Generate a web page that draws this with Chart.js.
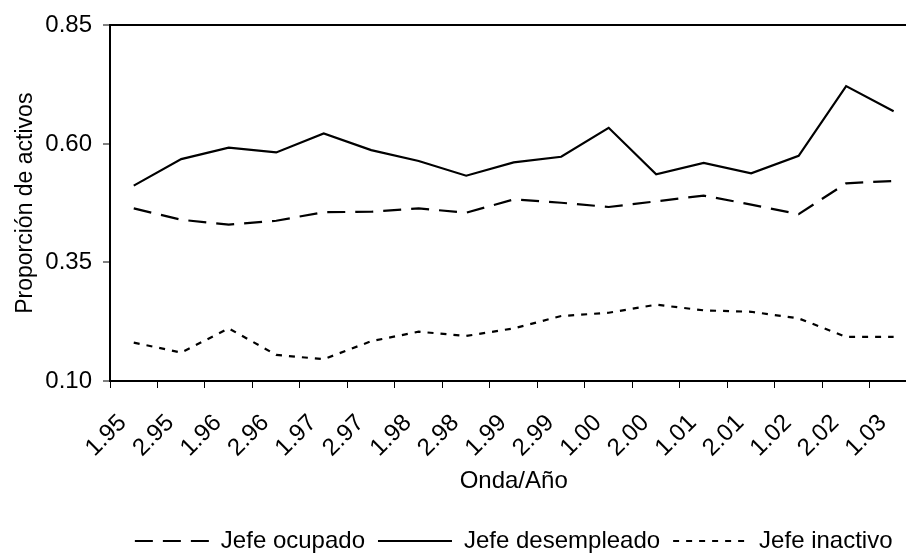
<!DOCTYPE html>
<html>
<head>
<meta charset="utf-8">
<script src="https://cdn.jsdelivr.net/npm/chart.js@4.4.0/dist/chart.umd.min.js"></script>
<style>
  html, body { margin: 0; padding: 0; background: #fff; overflow: hidden; }
  #wrap { width: 935px; height: 563px; position: relative; }
</style>
</head>
<body>
<div id="wrap"><canvas id="chart"></canvas></div>
<script>
// Onda/Año categories
const waves = ['1.95', '2.95', '1.96', '2.96', '1.97', '2.97', '1.98', '2.98', '1.99',
               '2.99', '1.00', '2.00', '1.01', '2.01', '1.02', '2.02', '1.03'];

// Proporción de activos por situación del jefe
const jefeOcupado     = [0.464, 0.440, 0.430, 0.438, 0.456, 0.457, 0.464, 0.455, 0.483,
                         0.476, 0.467, 0.479, 0.491, 0.472, 0.452, 0.517, 0.522];
const jefeDesempleado = [0.512, 0.568, 0.592, 0.582, 0.622, 0.587, 0.564, 0.533, 0.561,
                         0.573, 0.634, 0.536, 0.560, 0.538, 0.575, 0.722, 0.669];
const jefeInactivo    = [0.181, 0.160, 0.211, 0.155, 0.146, 0.184, 0.204, 0.195, 0.211,
                         0.237, 0.244, 0.261, 0.249, 0.246, 0.232, 0.193, 0.193];

const yTicks = [0.10, 0.35, 0.60, 0.85];

const FONT = '"Liberation Sans", Arial, sans-serif';
Chart.defaults.font.family = FONT;
Chart.defaults.color = '#000';

const ctx = document.getElementById('chart');

new Chart(ctx, {
    type: 'line',
    data: {
        labels: waves,
        datasets: [
            {
                label: 'Jefe ocupado',
                data: jefeOcupado,
                borderColor: '#000',
                borderWidth: 2.2,
                borderDash: [18, 10],
                pointRadius: 0,
                tension: 0
            },
            {
                label: 'Jefe desempleado',
                data: jefeDesempleado,
                borderColor: '#000',
                borderWidth: 2.2,
                pointRadius: 0,
                tension: 0
            },
            {
                label: 'Jefe inactivo',
                data: jefeInactivo,
                borderColor: '#000',
                borderWidth: 2.2,
                borderDash: [6, 7],
                pointRadius: 0,
                tension: 0
            }
        ]
    },
    options: {
        responsive: true,
        maintainAspectRatio: false,
        animation: false,
        layout: {
            padding: { left: 12, top: 21, right: 0, bottom: 0 }
        },
        plugins: {
            tooltip: { enabled: false },
            legend: {
                position: 'bottom',
                fullSize: false,
                labels: {
                    usePointStyle: true,
                    pointStyle: 'line',
                    pointStyleWidth: 74,
                    padding: 13,
                    color: '#000',
                    font: { size: 24 },
                    // point style legends lose the dash, put it back
                    generateLabels: chart => {
                        const items = Chart.defaults.plugins.legend.labels.generateLabels(chart);
                        items.forEach(item => {
                            const ds = chart.data.datasets[item.datasetIndex];
                            item.lineDash = ds.borderDash || [];
                            item.lineWidth = ds.borderWidth;
                            item.strokeStyle = ds.borderColor;
                        });
                        return items;
                    }
                }
            }
        },
        scales: {
            x: {
                offset: true,
                afterFit: scale => {
                    scale.height = 135;
                },
                border: { color: '#000', width: 2 },
                grid: {
                    offset: true,
                    drawOnChartArea: false,
                    drawTicks: true,
                    tickLength: 7,
                    tickColor: '#000',
                    tickWidth: 1
                },
                ticks: {
                    autoSkip: false,
                    minRotation: 45,
                    maxRotation: 45,
                    labelOffset: -11,
                    padding: 21,
                    color: '#000',
                    font: { size: 24 }
                },
                title: {
                    display: true,
                    text: 'Onda/Año',
                    color: '#000',
                    font: { size: 24 },
                    padding: { top: 0, bottom: 20 }
                }
            },
            y: {
                min: 0.10,
                max: 0.85,
                afterBuildTicks: scale => {
                    scale.ticks = yTicks.map(v => ({ value: v }));
                },
                afterFit: scale => {
                    scale.width = 98;
                },
                border: { color: '#000', width: 2 },
                grid: {
                    // only the top frame line is drawn across the plot
                    color: c => (c.index === yTicks.length - 1 ? '#000' : 'rgba(0,0,0,0)'),
                    lineWidth: 2,
                    tickLength: 7,
                    tickColor: '#000',
                    tickWidth: 1
                },
                ticks: {
                    padding: 11,
                    color: '#000',
                    font: { size: 24 },
                    callback: v => v.toFixed(2)
                },
                title: {
                    display: true,
                    text: 'Proporción de activos',
                    color: '#000',
                    font: { size: 23 },
                    padding: 0
                }
            }
        }
    }
});
</script>
</body>
</html>
